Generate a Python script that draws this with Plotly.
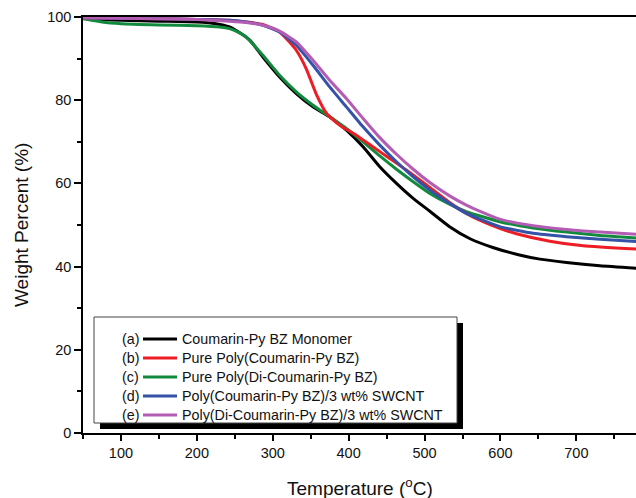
import plotly.graph_objects as go

# ---------------- data ----------------
names = [
    "Coumarin-Py BZ Monomer",
    "Pure Poly(Coumarin-Py BZ)",
    "Pure Poly(Di-Coumarin-Py BZ)",
    "Poly(Coumarin-Py BZ)/3 wt% SWCNT",
    "Poly(Di-Coumarin-Py BZ)/3 wt% SWCNT",
]
tags = ["(a)", "(b)", "(c)", "(d)", "(e)"]
colors = ["#000000", "#EE1C24", "#128A3E", "#3352A8", "#B45CB4"]

temp_a = [50, 75, 100, 150, 200, 225, 243, 255, 270, 287, 309, 331, 353, 375, 397, 419, 441, 463, 485, 507, 533, 560, 590, 625, 652, 687, 731, 779]
wt_a = [99.7, 99.4, 99.2, 99.0, 98.8, 98.4, 97.6, 96.4, 94.4, 90.4, 85.6, 81.6, 78.4, 76.0, 72.8, 68.8, 64.0, 60.0, 56.4, 53.3, 49.6, 46.7, 44.6, 42.8, 41.8, 41.0, 40.2, 39.6]

temp_b = [50, 100, 150, 200, 243, 265, 287, 309, 322, 331, 344, 357, 371, 388, 410, 432, 454, 476, 507, 533, 555, 577, 599, 621, 665, 709, 779]
wt_b = [99.8, 99.7, 99.6, 99.4, 99.2, 98.8, 98.2, 96.4, 94.0, 92.0, 87.6, 81.6, 76.8, 74.0, 71.6, 68.8, 66.0, 63.2, 59.0, 55.4, 52.8, 50.8, 49.2, 47.9, 46.1, 45.0, 44.2]

temp_c = [50, 60, 75, 100, 150, 200, 230, 243, 255, 265, 287, 309, 331, 353, 375, 397, 419, 441, 463, 485, 507, 533, 555, 599, 643, 687, 731, 779]
wt_c = [99.6, 99.3, 98.8, 98.4, 98.1, 97.9, 97.6, 97.2, 96.3, 95.2, 90.8, 86.0, 82.0, 78.8, 76.0, 73.2, 70.0, 66.6, 63.4, 60.4, 57.6, 55.0, 53.2, 50.8, 49.3, 48.3, 47.5, 46.9]

temp_d = [50, 100, 150, 200, 243, 265, 287, 309, 331, 353, 375, 397, 419, 441, 463, 485, 507, 533, 555, 599, 643, 687, 731, 779]
wt_d = [99.8, 99.7, 99.6, 99.4, 99.2, 98.8, 98.0, 96.4, 93.2, 88.4, 83.2, 78.4, 73.6, 69.2, 65.2, 61.6, 58.4, 55.2, 52.8, 49.6, 48.0, 47.2, 46.6, 46.0]

temp_e = [50, 100, 150, 200, 243, 265, 287, 309, 331, 353, 375, 397, 419, 441, 463, 485, 507, 533, 555, 599, 643, 687, 731, 779]
wt_e = [99.8, 99.7, 99.6, 99.4, 99.0, 98.7, 98.0, 96.6, 94.0, 89.6, 84.8, 80.4, 75.6, 71.0, 67.0, 63.4, 60.2, 57.0, 54.8, 51.4, 49.8, 48.9, 48.3, 47.8]

temps = [temp_a, temp_b, temp_c, temp_d, temp_e]
wts = [wt_a, wt_b, wt_c, wt_d, wt_e]

x_ticks = [100, 200, 300, 400, 500, 600, 700]
y_ticks = [0, 20, 40, 60, 80, 100]

# ---------------- layout geometry ----------------
W, H = 636, 498
ML, MR, MT, MB = 83, 0, 17, 65
PW, PH = W - ML - MR, H - MT - MB
FONT = "Liberation Sans, Arial, sans-serif"


def px(x):
    return (x - ML) / PW


def py(y):
    return (H - MB - y) / PH


fig = go.Figure()
# draw order: black, green, red, blue, purple
order = [0, 2, 1, 3, 4]
for i in order:
    fig.add_trace(go.Scatter(
        x=temps[i], y=wts[i], mode="lines", name=names[i],
        line=dict(color=colors[i], width=3, shape="spline", smoothing=0.5),
        showlegend=False,
    ))

shapes = []
# legend shadow and box
shapes.append(dict(type="rect", xref="paper", yref="paper",
                   x0=px(100), x1=px(463), y0=py(429), y1=py(323),
                   fillcolor="#000000", line=dict(width=0), layer="above"))
shapes.append(dict(type="rect", xref="paper", yref="paper",
                   x0=px(94), x1=px(457), y0=py(423), y1=py(317),
                   fillcolor="#ffffff", line=dict(color="#444444", width=1), layer="above"))

annotations = []
row_y = [339, 358, 377, 396, 415]
for k in range(5):
    yk = row_y[k]
    shapes.append(dict(type="line", xref="paper", yref="paper",
                       x0=px(143), x1=px(177), y0=py(yk), y1=py(yk),
                       line=dict(color=colors[k], width=3), layer="above"))
    annotations.append(dict(xref="paper", yref="paper", x=px(141), y=py(yk),
                            text=tags[k], showarrow=False, xanchor="right", yanchor="middle",
                            font=dict(family=FONT, size=14.3, color="#111111")))
    annotations.append(dict(xref="paper", yref="paper", x=px(180), y=py(yk),
                            text=names[k], showarrow=False, xanchor="left", yanchor="middle",
                            font=dict(family=FONT, size=14.3, color="#111111")))

# axis titles
annotations.append(dict(xref="paper", yref="paper", x=0.5, y=py(487),
                        text="Temperature (<sup>o</sup>C)", showarrow=False,
                        xanchor="center", yanchor="middle",
                        font=dict(family=FONT, size=19, color="#111111")))
annotations.append(dict(xref="paper", yref="paper", x=px(21), y=0.5,
                        text="Weight Percent (%)", showarrow=False, textangle=-90,
                        xanchor="center", yanchor="middle",
                        font=dict(family=FONT, size=19, color="#111111")))

fig.update_layout(
    width=W, height=H,
    margin=dict(l=ML, r=MR, t=MT, b=MB, pad=0),
    paper_bgcolor="white", plot_bgcolor="white",
    font=dict(family=FONT, size=14.5, color="#111111"),
    shapes=shapes, annotations=annotations,
    showlegend=False,
)
fig.update_xaxes(
    range=[50, 50 + PW / 0.759], tickmode="array", tickvals=x_ticks,
    ticktext=[str(v) for v in x_ticks],
    showgrid=False, zeroline=False,
    showline=True, linecolor="#000000", linewidth=1.5, mirror=True,
    ticks="outside", ticklen=6, tickwidth=1.5, tickcolor="#000000",
    minor=dict(dtick=50, tick0=0, ticks="outside", ticklen=4, tickwidth=1.5, tickcolor="#000000"),
    tickfont=dict(family=FONT, size=14.5, color="#111111"),
)
fig.update_yaxes(
    range=[0, 100], tickmode="array", tickvals=y_ticks,
    ticktext=[str(v) for v in y_ticks],
    showgrid=False, zeroline=False,
    showline=True, linecolor="#000000", linewidth=1.5, mirror=False,
    ticks="outside", ticklen=7, tickwidth=1.5, tickcolor="#000000",
    minor=dict(dtick=10, tick0=0, ticks="outside", ticklen=4, tickwidth=1.5, tickcolor="#000000"),
    tickfont=dict(family=FONT, size=14.5, color="#111111"),
)

fig.write_html("out.html")
